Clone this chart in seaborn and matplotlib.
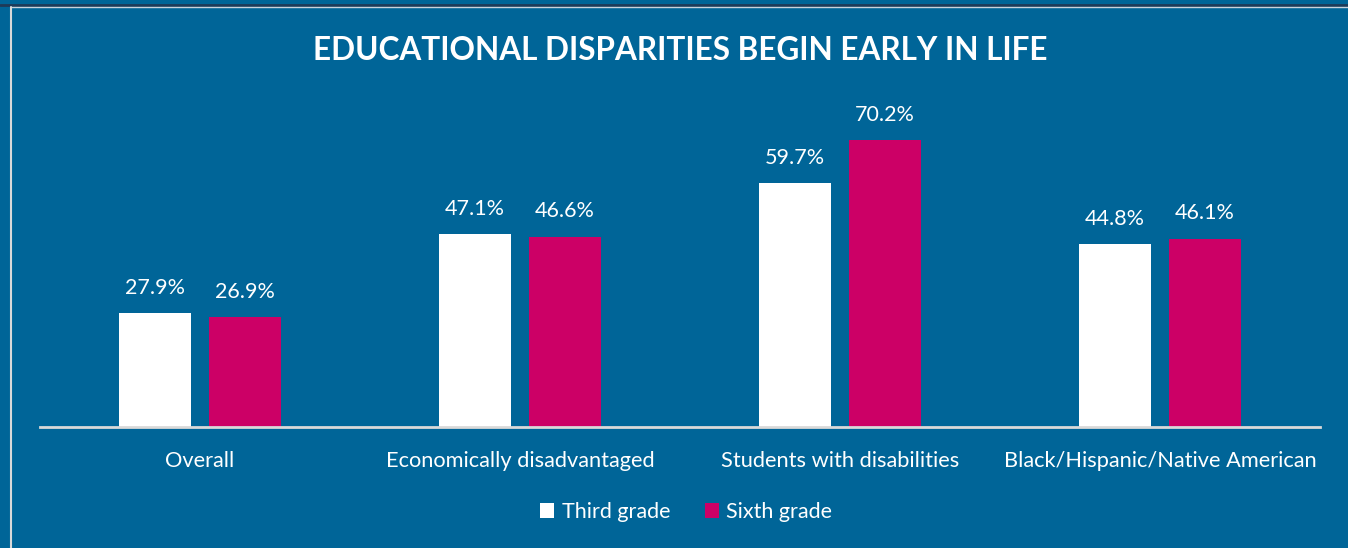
import matplotlib
matplotlib.use("Agg")
import matplotlib.pyplot as plt
from matplotlib.lines import Line2D
from matplotlib.patches import Patch
import seaborn as sns
import pandas as pd

categories = ["Overall", "Economically disadvantaged",
              "Students with disabilities", "Black/Hispanic/Native American"]
third_grade = [27.9, 47.1, 59.7, 44.8]
sixth_grade = [26.9, 46.6, 70.2, 46.1]
series = ["Third grade", "Sixth grade"]

BG = "#006598"
WHITE = "#FFFFFF"
PINK = "#CC0066"
FONT = ["Lato", "DejaVu Sans"]

df = pd.DataFrame({
    "category": categories * 2,
    "value": third_grade + sixth_grade,
    "grade": [series[0]] * 4 + [series[1]] * 4,
})

sns.set_theme(style="white")
plt.rcParams["font.family"] = FONT

fig = plt.figure(figsize=(13.48, 5.48), dpi=100, facecolor=BG)
ax = fig.add_axes([40 / 1348, 1 - 427 / 548, 1280 / 1348, 327 / 548])
ax.set_facecolor(BG)

sns.barplot(data=df, x="category", y="value", hue="grade",
            palette=[WHITE, PINK], width=0.5625, gap=0.2,
            saturation=1, linewidth=0, ax=ax, legend=False)

for container in ax.containers:
    ax.bar_label(container, labels=[f"{v:.1f}%" for v in container.datavalues],
                 padding=11, color="white", fontsize=15.5, family=FONT)

ax.set_xlim(-0.5, 3.5)
ax.set_ylim(0, 80)
ax.set_yticks([])
ax.set_xlabel("")
ax.set_ylabel("")
for side in ["top", "right", "left"]:
    ax.spines[side].set_visible(False)
ax.spines["bottom"].set_color("#D9D9D9")
ax.spines["bottom"].set_linewidth(2)
ax.tick_params(axis="x", length=0, pad=17, labelsize=15.7, labelcolor="white")

fig.text(0.5045, 1 - 50 / 548, "EDUCATIONAL DISPARITIES BEGIN EARLY IN LIFE",
         ha="center", va="center", color="white", fontsize=22.7,
         fontweight="bold", family=FONT)

handles = [Patch(facecolor=WHITE, edgecolor="none", label=series[0]),
           Patch(facecolor=PINK, edgecolor="none", label=series[1])]
fig.legend(handles=handles, loc="center", bbox_to_anchor=(0.509, 1 - 512 / 548),
           ncol=2, frameon=False, fontsize=15.5, labelcolor="white",
           handlelength=0.65, handleheight=0.65, handletextpad=0.35,
           columnspacing=1.6)

# thin frame lines along the top and left edges
fig.add_artist(Line2D([0, 1], [1 - 5 / 548] * 2, color="#1F3A57", lw=2))
fig.add_artist(Line2D([0.008, 1], [1 - 7 / 548] * 2, color="#C8D3DC", lw=1))
fig.add_artist(Line2D([10.5 / 1348] * 2, [0, 1 - 7 / 548], color="#D9D9D9", lw=1.5))

fig.savefig("out.png", dpi=100, facecolor=BG)
